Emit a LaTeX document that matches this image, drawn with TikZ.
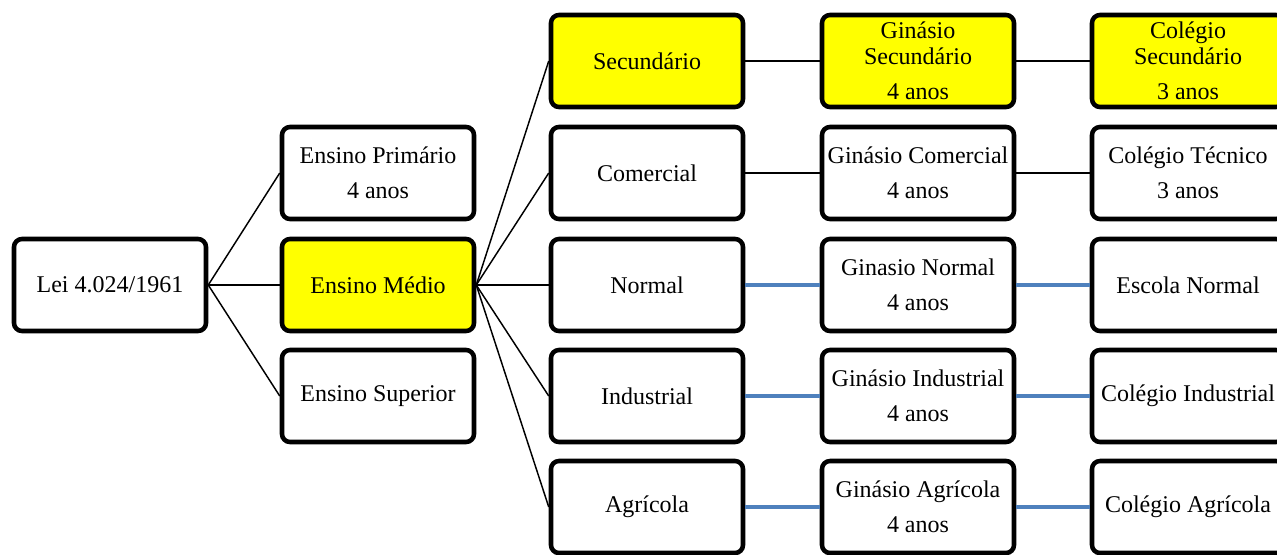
\documentclass[tikz,border=0pt]{standalone}
\usepackage{fontspec}
\setmainfont{Liberation Serif}
\definecolor{linkblue}{RGB}{79,129,189}
\definecolor{markyellow}{RGB}{255,255,0}
\begin{document}
\begin{tikzpicture}[x=0.75pt,y=-0.75pt,thick,
    main node/.style={draw,fill=white,rounded corners=6pt,line width=3.4pt,minimum width=144pt,minimum height=69pt,inner sep=2pt,align=center,font=\fontsize{18}{26.25}\selectfont},
    hi node/.style={main node,fill=markyellow},
    thin link/.style={line width=1.1pt,black},
    blue link/.style={line width=3.4pt,linkblue}]
                    \useasboundingbox (0,0) rectangle (1277,554);
                    \node[main node] at (110, 285) (lei) {Lei 4.024/1961};
                    \node[main node] at (378, 173) (prim) {Ensino Primário\\4 anos};
                    \node[hi node] at (378, 285) (medio) {Ensino Médio};
                    \node[main node] at (378, 396) (sup) {Ensino Superior};

                    \node[hi node] at (647, 61) (sec) {Secundário};
                    \node[main node] at (647, 173) (com) {Comercial};
                    \node[main node] at (647, 285) (norm) {Normal};
                    \node[main node] at (647, 396) (ind) {Industrial};
                    \node[main node] at (647, 507) (agr) {Agrícola};

                    \node[hi node] at (918, 61) (gsec) {Ginásio\\[-7pt]Secundário\\4 anos};
                    \node[main node] at (918, 173) (gcom) {Ginásio Comercial\\4 anos};
                    \node[main node] at (918, 285) (gnorm) {Ginasio Normal\\4 anos};
                    \node[main node] at (918, 396) (gind) {Ginásio Industrial\\4 anos};
                    \node[main node] at (918, 507) (gagr) {Ginásio Agrícola\\4 anos};

                    \node[hi node] at (1188, 61) (csec) {Colégio\\[-7pt]Secundário\\3 anos};
                    \node[main node] at (1188, 173) (ctec) {Colégio Técnico\\3 anos};
                    \node[main node] at (1188, 285) (enorm) {Escola Normal};
                    \node[main node] at (1188, 396) (cind) {Colégio Industrial};
                    \node[main node] at (1188, 507) (cagr) {Colégio Agrícola};

                    \path[thin link] (lei.east) edge (prim.west);
                    \path[thin link] (lei.east) edge (medio.west);
                    \path[thin link] (lei.east) edge (sup.west);
                    \path[thin link] (medio.east) edge (sec.west);
                    \path[thin link] (medio.east) edge (com.west);
                    \path[thin link] (medio.east) edge (norm.west);
                    \path[thin link] (medio.east) edge (ind.west);
                    \path[thin link] (medio.east) edge (agr.west);
                    \path[thin link] (sec) edge (gsec);
                    \path[thin link] (gsec) edge (csec);
                    \path[thin link] (com) edge (gcom);
                    \path[thin link] (gcom) edge (ctec);
                    \path[blue link] (norm) edge (gnorm);
                    \path[blue link] (gnorm) edge (enorm);
                    \path[blue link] (ind) edge (gind);
                    \path[blue link] (gind) edge (cind);
                    \path[blue link] (agr) edge (gagr);
                    \path[blue link] (gagr) edge (cagr);
                \end{tikzpicture}
\end{document}
